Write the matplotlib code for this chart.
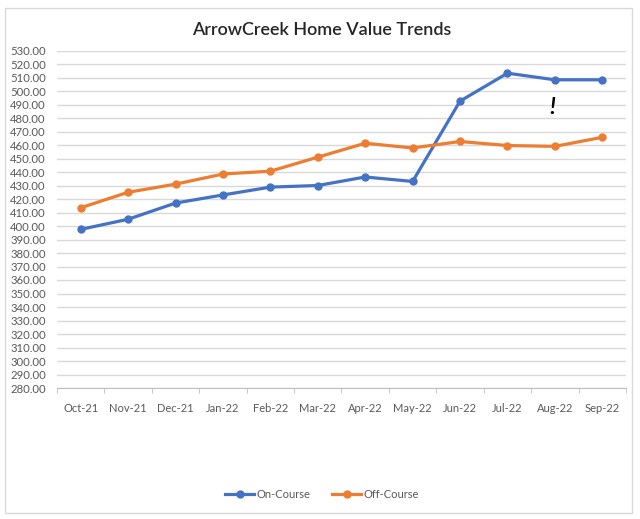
import matplotlib.pyplot as plt
from matplotlib.patches import Rectangle

months = ["Oct-21", "Nov-21", "Dec-21", "Jan-22", "Feb-22", "Mar-22",
          "Apr-22", "May-22", "Jun-22", "Jul-22", "Aug-22", "Sep-22"]
on_course = [397.5, 405.0, 417.0, 423.0, 428.8, 430.0,
             436.3, 433.0, 492.5, 513.2, 508.3, 508.3]
off_course = [413.5, 425.0, 431.0, 438.5, 440.6, 451.0,
              461.3, 457.8, 462.6, 459.6, 459.0, 465.7]

plt.rcParams['font.family'] = ['Lato', 'DejaVu Sans']

fig = plt.figure(figsize=(6.4, 5.19), dpi=100)
fig.patches.append(Rectangle((5 / 640, 1 - 513 / 519), 627 / 640, 505 / 519,
                             transform=fig.transFigure, fill=False,
                             edgecolor="#D9D9D9", linewidth=1))
ax = fig.add_axes([57 / 640, 1 - 388 / 519, 569 / 640, 337.5 / 519])

x = list(range(len(months)))
ax.plot(x, on_course, color="#4472C4", linewidth=2.3, marker="o",
        markersize=5, label="On-Course", zorder=3)
ax.plot(x, off_course, color="#ED7D31", linewidth=2.3, marker="o",
        markersize=5, label="Off-Course", zorder=3)

ax.set_xlim(-0.5, len(months) - 0.5)
ax.set_ylim(280, 530)
ax.set_yticks(range(280, 531, 10))
ax.set_yticklabels([f"{v:.2f}" for v in range(280, 531, 10)])
ax.set_xticks(x)
ax.set_xticklabels(months)
ax.set_xticks([i - 0.5 for i in range(len(months) + 1)], minor=True)
ax.tick_params(axis="x", which="major", length=0, pad=11,
               labelsize=8, labelcolor="#595959")
ax.tick_params(axis="x", which="minor", length=3.5, color="#BFBFBF")
ax.tick_params(axis="y", length=0, pad=8, labelsize=8.2, labelcolor="#595959")
ax.grid(axis="y", color="#D9D9D9", linewidth=1)
ax.set_axisbelow(True)
for side in ["top", "right", "left"]:
    ax.spines[side].set_visible(False)
ax.spines["bottom"].set_color("#BFBFBF")

fig.text(322 / 640, 1 - 30 / 519, "ArrowCreek Home Value Trends",
         ha="center", va="center", fontsize=13, fontweight="semibold",
         color="#262626")

ax.text(9.95, 488, "!", fontsize=16, fontweight="bold", fontstyle="italic",
        ha="center", va="center", color="black")

fig.legend(loc="center", bbox_to_anchor=(322 / 640, 1 - 494 / 519), ncol=2,
           frameon=False, fontsize=8, labelcolor="#595959",
           handlelength=2.6, columnspacing=2.0, handletextpad=0.2)

fig.savefig("out.png", dpi=100)
